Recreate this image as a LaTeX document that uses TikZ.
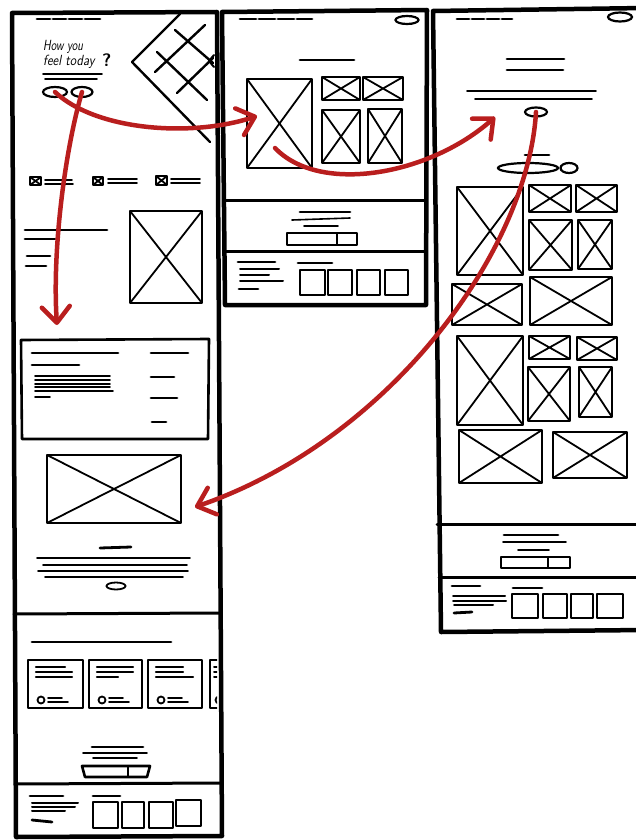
\documentclass[tikz,border=0pt]{standalone}
\usetikzlibrary{shapes.geometric,arrows.meta}
\definecolor{sketchred}{RGB}{185,30,30}
\tikzset{
  frame/.style={line width=4.5pt, line join=round, line cap=round},
  divider/.style={line width=3pt, line cap=round},
  tl/.style={line width=2.8pt, line cap=round},
  thl/.style={line width=1.6pt, line cap=round},
  sketchbox/.style={line width=2.6pt, line join=round},
  imgbox/.style={draw, line width=2.6pt, inner sep=0pt, outer sep=0pt, line join=round,
    path picture={\draw[line width=1.8pt]
      (path picture bounding box.north west) -- (path picture bounding box.south east)
      (path picture bounding box.north east) -- (path picture bounding box.south west);}},
  iconbox/.style={imgbox, line width=1.6pt},
  oval/.style={draw, ellipse, line width=2.2pt, inner sep=0pt, outer sep=0pt},
  redarrow/.style={draw=sketchred, line width=4.5pt, line cap=round,
    -{Straight Barb[length=16pt,width=28pt,round]}},
  hand/.style={font=\fontsize{14}{14}\selectfont\sffamily\itshape, inner sep=0pt}
}
\newcommand\xb[6][]{\node[imgbox,#1,minimum width={(#5)-(#3)},minimum height={(#6)-(#4)}] (#2) at ({((#3)+(#5))/2},{((#4)+(#6))/2}) {};}
\begin{document}
\begin{tikzpicture}[x=1pt,y=-1pt]
\useasboundingbox (0,0) rectangle (635,840);
\fill[white] (0,0) rectangle (635,840);

% ================= LEFT FRAME =================
\draw[frame] (12,13) -- (217,12) -- (222,836) -- (16,837) -- cycle;
\draw[divider] (14,614) -- (220,613);
\draw[divider] (15,784) -- (222,783);
% top dashes
\draw[tl] (37,19) -- (50,19) (53,19) -- (66,19) (69,19) -- (82,19) (85,19) -- (100,19);
% handwritten question
\node[hand, anchor=base west] (q1) at (43,51) {\scalebox{0.8}[1.05]{How you}};
\node[hand, anchor=base west] (q2) at (43,66) {\scalebox{0.92}[1.05]{feel today}};
\node[hand, anchor=base west, font=\fontsize{18}{18}\selectfont\sffamily\bfseries] (q3) at (102,67) {?};
\draw[thl] (43,74) -- (102,74) (45,79) -- (97,79);
\node[oval, minimum width=24pt, minimum height=10pt] (o1) at (55,92) {};
\node[oval, minimum width=21pt, minimum height=10pt] (o2) at (82,92) {};
% diamond hero
\draw[line width=2.4pt, line cap=round, line join=round] (180,14) -- (132,62) -- (210,142);
\draw[line width=2pt, line cap=round, line join=round] (214,55) -- (209,61) -- (214,67);
\draw[line width=2.4pt, line cap=round] (157,52) -- (207,100) (175,30) -- (213,63)
  (155,72) -- (205,25) (177,93) -- (213,58);
% icon row
\xb[iconbox]{ic1}{30}{177}{41}{185}
\xb[iconbox]{ic2}{93}{177}{103}{185}
\xb[iconbox]{ic3}{156}{176}{167}{185}
\draw[line width=1.8pt, line cap=round] (45,180) -- (72,180) (45,184) -- (73,184)
  (108,179) -- (137,179) (108,183) -- (137,183)
  (171,179) -- (200,179) (171,183) -- (200,183);
% text block + image
\draw[tl] (25,230) -- (107,230) (25,239) -- (55,239) (27,256) -- (50,256) (26,266) -- (46,266);
\xb{limg1}{130}{211}{202}{303}
% card
\draw[sketchbox] (21,340) -- (209,339) -- (208,439) -- (22,439) -- cycle;
\draw[tl] (32,353) -- (118,353) (32,365) -- (79,365);
\draw[thl] (35,376) -- (110,376) (35,380) -- (110,380) (35,384) -- (110,384)
  (35,387) -- (110,387) (35,391) -- (113,391) (35,397) -- (50,397);
\draw[tl] (151,353) -- (188,353) (151,377) -- (174,377) (151,398) -- (177,398) (152,422) -- (166,422);
% second image
\xb{limg2}{47}{455}{181}{523}
\draw[tl] (100,548) -- (131,547);
\draw[thl] (37,558) -- (190,558) (43,565) -- (187,565) (38,571) -- (188,571) (45,577) -- (183,577);
\node[oval, minimum width=19pt, minimum height=7pt, line width=1.8pt] (o3) at (116,586) {};
% testimonials
\draw[tl] (32,642) -- (171,642);
\foreach \L/\R/\a/\b/\c in {28/83/37/44/44, 89/142/44/44/29, 148/202/35/35/45} {
  \draw[sketchbox] (\L,660) rectangle (\R,708);
  \draw[line width=2.2pt, line cap=round] (\L+8,667) -- (\L+\a,667) (\L+8,672) -- (\L+\b,672) (\L+8,677) -- (\L+\c,677);
  \draw[line width=1.8pt] (\L+13,700) circle[radius=3.5pt];
  \draw[line width=1.8pt, line cap=round] (\L+20,698) -- (\L+34,698) (\L+20,702) -- (\L+40,702);
}
\begin{scope}
  \clip (205,650) rectangle (217,715);
  \draw[sketchbox] (210,660) rectangle (240,708);
  \draw[line width=2pt, line cap=round] (214,667) -- (240,667) (214,672) -- (240,672) (214,677) -- (240,677);
  \draw[line width=1.8pt] (219,700) circle[radius=3.5pt];
\end{scope}
% CTA
\draw[tl] (92,747) -- (143,747);
\draw[thl] (83,753) -- (147,753) (93,758) -- (137,758);
\draw[sketchbox] (82,766) -- (150,766) -- (147,777) -- (85,777) -- cycle;
\draw[line width=2pt] (128,766) -- (128,777);
% footer
\draw[tl] (30,796) -- (63,796);
\draw[line width=2pt, line cap=round] (32,803) -- (78,803) (32,807) -- (75,807) (32,811) -- (65,811);
\draw[tl] (32,820) -- (52,822);
\draw[tl] (93,796) -- (120,796);
\draw[sketchbox] (93,802) rectangle (118,828) (122,802) rectangle (144,828)
  (149,802) rectangle (173,828) (176,800) rectangle (201,826);

% ================= MIDDLE FRAME =================
\draw[frame] (222,12) -- (427,10) -- (426,305) -- (225,305) -- cycle;
\draw[divider] (224,200) -- (426,200);
\draw[divider] (224,251) -- (426,251);
\draw[tl] (240,19) -- (256,19) (259,19) -- (275,19) (278,19) -- (294,19) (297,19) -- (312,19);
\node[oval, minimum width=23pt, minimum height=8pt] (mo) at (407,20) {};
\draw[tl] (300,60) -- (354,60);
\xb{mimg}{247}{79}{312}{168}
\xb{ms1}{322}{77}{360}{100}
\xb{ms2}{363}{77}{403}{100}
\xb{ms3}{322}{110}{360}{163}
\xb{ms4}{368}{109}{402}{163}
% CTA
\draw[tl] (300,212) -- (350,212);
\draw[thl] (292,220) -- (350,218) (304,226) -- (338,226);
\draw[sketchbox] (287,233) rectangle (357,245);
\draw[line width=2pt] (337,233) -- (337,245);
% footer
\draw[tl] (238,262) -- (275,262);
\draw[line width=2pt, line cap=round] (240,269) -- (279,269) (240,275) -- (269,275) (240,281) -- (283,281);
\draw[tl] (239,289) -- (258,289);
\draw[tl] (298,263) -- (332,263);
\draw[sketchbox] (300,270) rectangle (325,295) (328,270) rectangle (352,295)
  (357,270) rectangle (380,295) (385,270) rectangle (408,295);

% ================= RIGHT FRAME =================
\draw[frame] (645,8) -- (433,11) -- (441,632) -- (645,630);
\draw[divider] (437,524) -- (645,524);
\draw[divider] (439,577) -- (645,577);
\draw[tl] (457,19) -- (469,19) (472,19) -- (484,19) (487,19) -- (499,19) (502,19) -- (512,19);
\node[oval, minimum width=24pt, minimum height=9pt] (ro0) at (620,17) {};
\draw[tl] (507,59) -- (564,59) (507,70) -- (563,70);
\draw[line width=1.8pt, line cap=round] (467,91) -- (596,91) (475,99) -- (592,99);
\node[oval, minimum width=22pt, minimum height=9pt] (ro) at (536,112) {};
\draw[tl] (525,155) -- (549,155);
\node[oval, minimum width=60pt, minimum height=10pt] (pill) at (528,168) {};
\node[oval, minimum width=17pt, minimum height=10pt] (po) at (569,168) {};
% grid 1
\xb{rg1}{457}{187}{523}{275}
\xb{rg2}{529}{185}{571}{212}
\xb{rg3}{576}{185}{617}{212}
\xb{rg4}{529}{220}{572}{270}
\xb{rg5}{578}{220}{612}{269}
\xb{rg6}{452}{284}{522}{325}
\xb{rg7}{530}{277}{612}{325}
% grid 2
\xb{rh1}{457}{336}{523}{425}
\xb{rh2}{529}{336}{570}{359}
\xb{rh3}{577}{337}{617}{360}
\xb{rh4}{528}{367}{570}{421}
\xb{rh5}{579}{367}{612}{417}
\xb{rh6}{459}{430}{542}{483}
\xb{rh7}{553}{432}{627}{478}
% CTA
\draw[tl] (504,535) -- (558,535);
\draw[thl] (503,542) -- (566,542) (518,550) -- (549,550);
\draw[sketchbox] (501,557) rectangle (570,568);
\draw[line width=2pt] (548,557) -- (548,568);
% footer
\draw[tl] (452,586) -- (480,586);
\draw[line width=2pt, line cap=round] (453,596) -- (505,596) (453,601) -- (506,601) (454,605) -- (493,605);
\draw[tl] (454,613) -- (472,612);
\draw[tl] (513,588) -- (542,588);
\draw[sketchbox] (512,594) rectangle (538,618) (543,594) rectangle (567,618)
  (571,594) rectangle (593,618) (597,594) rectangle (623,618);

% ================= RED FLOW ARROWS =================
\coordinate (a1end) at (257,116);
\coordinate (a2end) at (57,325);
\coordinate (a3start) at (275,148);
\coordinate (a3end) at (495,117);
\coordinate (a4end) at (195,507);
\draw[redarrow] (o1.center) .. controls (95,130) and (190,138) .. (a1end);
\draw[redarrow] (o2.center) .. controls (65,150) and (52,250) .. (a2end);
\draw[redarrow] (a3start) .. controls (320,195) and (430,175) .. (a3end);
\draw[redarrow] (ro.center) .. controls (528,250) and (390,440) .. (a4end);
\end{tikzpicture}
\end{document}
